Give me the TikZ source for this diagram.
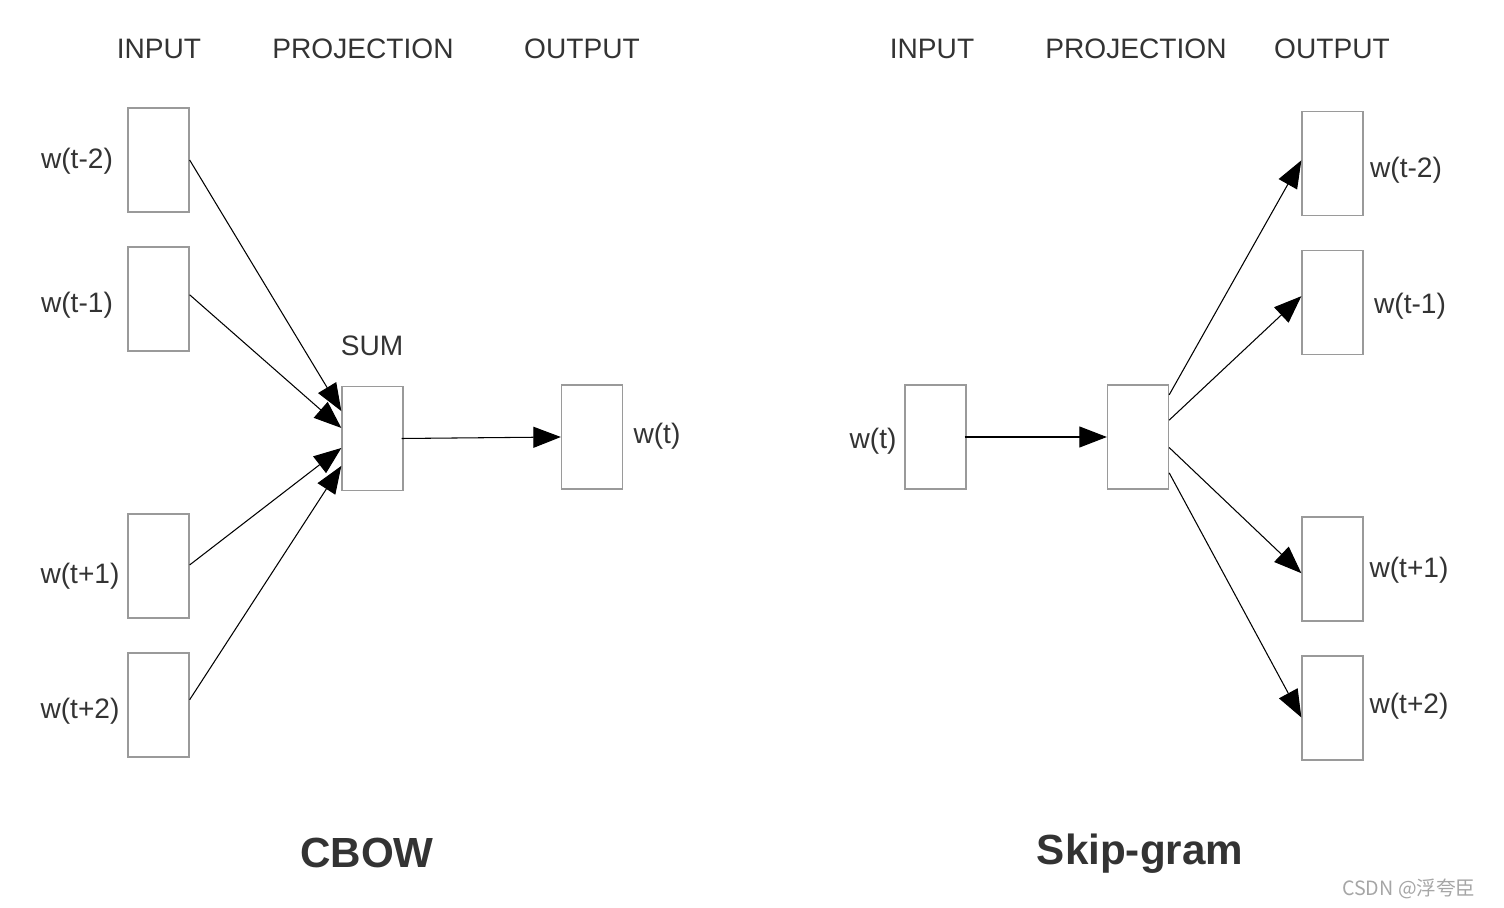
\documentclass[tikz,border=0pt]{standalone}
\usepackage{fontspec}
\setmainfont{Liberation Sans}
\newfontfamily\cjkfont{Noto Sans CJK SC}
\usetikzlibrary{arrows.meta,calc}
\definecolor{boxgray}{HTML}{9A9A9A}
\definecolor{txtgray}{HTML}{333333}
\begin{document}
\begin{tikzpicture}[x=0.02cm,y=-0.02cm,
    wbox/.style={draw=boxgray,line width=0.75pt,minimum width=1.22cm,minimum height=2.08cm,inner sep=0pt},
    lbl/.style={text=txtgray,font=\fontsize{16}{19}\selectfont,inner sep=0pt},
    ttl/.style={text=txtgray,font=\fontsize{24}{28}\selectfont\bfseries,inner sep=0pt},
    arr/.style={line width=0.6pt,-{Triangle[length=5.5mm,width=4.2mm]}}]
	\useasboundingbox (0,0) rectangle (1504,908);

	% CBOW
	\node[lbl] (h1) at (159,49) {INPUT};
	\node[lbl] (h2) at (363,49) {PROJECTION};
	\node[lbl] (h3) at (582,49) {OUTPUT};

	\node[wbox] (c1) at (158.5,160) {};
	\node[wbox] (c2) at (158.5,299) {};
	\node[wbox] (c3) at (158.5,566) {};
	\node[wbox] (c4) at (158.5,705) {};
	\node[wbox] (sum) at (372.5,438.5) {};
	\node[wbox] (cout) at (592,437) {};

	\node[lbl] (lc1) at (77,161) {w(t-2)};
	\node[lbl] (lc2) at (77,305) {w(t-1)};
	\node[lbl] (lc3) at (80,576) {w(t+1)};
	\node[lbl] (lc4) at (80,711) {w(t+2)};
	\node[lbl] (lsum) at (372,346) {SUM};
	\node[lbl] (lcout) at (657,436) {w(t)};

	\draw[arr] ($(c1.north east)!0.5!(c1.south east)$) -- ($(sum.north west)!0.24!(sum.south west)$);
	\draw[arr] ($(c2.north east)!0.46!(c2.south east)$) -- ($(sum.north west)!0.4!(sum.south west)$);
	\draw[arr] ($(c3.north east)!0.49!(c3.south east)$) -- ($(sum.north west)!0.59!(sum.south west)$);
	\draw[arr] ($(c4.north east)!0.45!(c4.south east)$) -- ($(sum.north west)!0.76!(sum.south west)$);
	\draw[arr] ($(sum.east)+(-2,0)$) -- (cout.west);

	\node[ttl] (cbow) at (367,853) {CBOW};

	% Skip-gram
	\node[lbl] (h4) at (932,49) {INPUT};
	\node[lbl] (h5) at (1136,49) {PROJECTION};
	\node[lbl] (h6) at (1332,49) {OUTPUT};

	\node[wbox] (sin) at (935.5,437) {};
	\node[wbox] (proj) at (1138,437) {};
	\node[wbox] (s1) at (1332.5,163.5) {};
	\node[wbox] (s2) at (1332.5,302.5) {};
	\node[wbox] (s3) at (1332.5,569) {};
	\node[wbox] (s4) at (1332.5,708) {};

	\node[lbl] (lsin) at (873,441) {w(t)};
	\node[lbl] (ls1) at (1406,170) {w(t-2)};
	\node[lbl] (ls2) at (1410,306) {w(t-1)};
	\node[lbl] (ls3) at (1409,570) {w(t+1)};
	\node[lbl] (ls4) at (1409,706) {w(t+2)};

	\draw[arr] ($(sin.east)+(-2,0)$) -- (proj.west);
	\draw[arr] ($(proj.north east)!0.1!(proj.south east)$) -- ($(s1.north west)!0.47!(s1.south west)$);
	\draw[arr] ($(proj.north east)!0.34!(proj.south east)$) -- ($(s2.north west)!0.44!(s2.south west)$);
	\draw[arr] ($(proj.north east)!0.6!(proj.south east)$) -- ($(s3.north west)!0.54!(s3.south west)$);
	\draw[arr] ($(proj.north east)!0.84!(proj.south east)$) -- ($(s4.north west)!0.59!(s4.south west)$);

	\node[ttl] (skip) at (1140,854) {Skip-gram};

	\node[text=gray!70,font=\fontsize{11.2}{13}\cjkfont,anchor=east,inner sep=0pt] (mark) at (1476,889) {CSDN @浮夸臣};
\end{tikzpicture}
\end{document}
